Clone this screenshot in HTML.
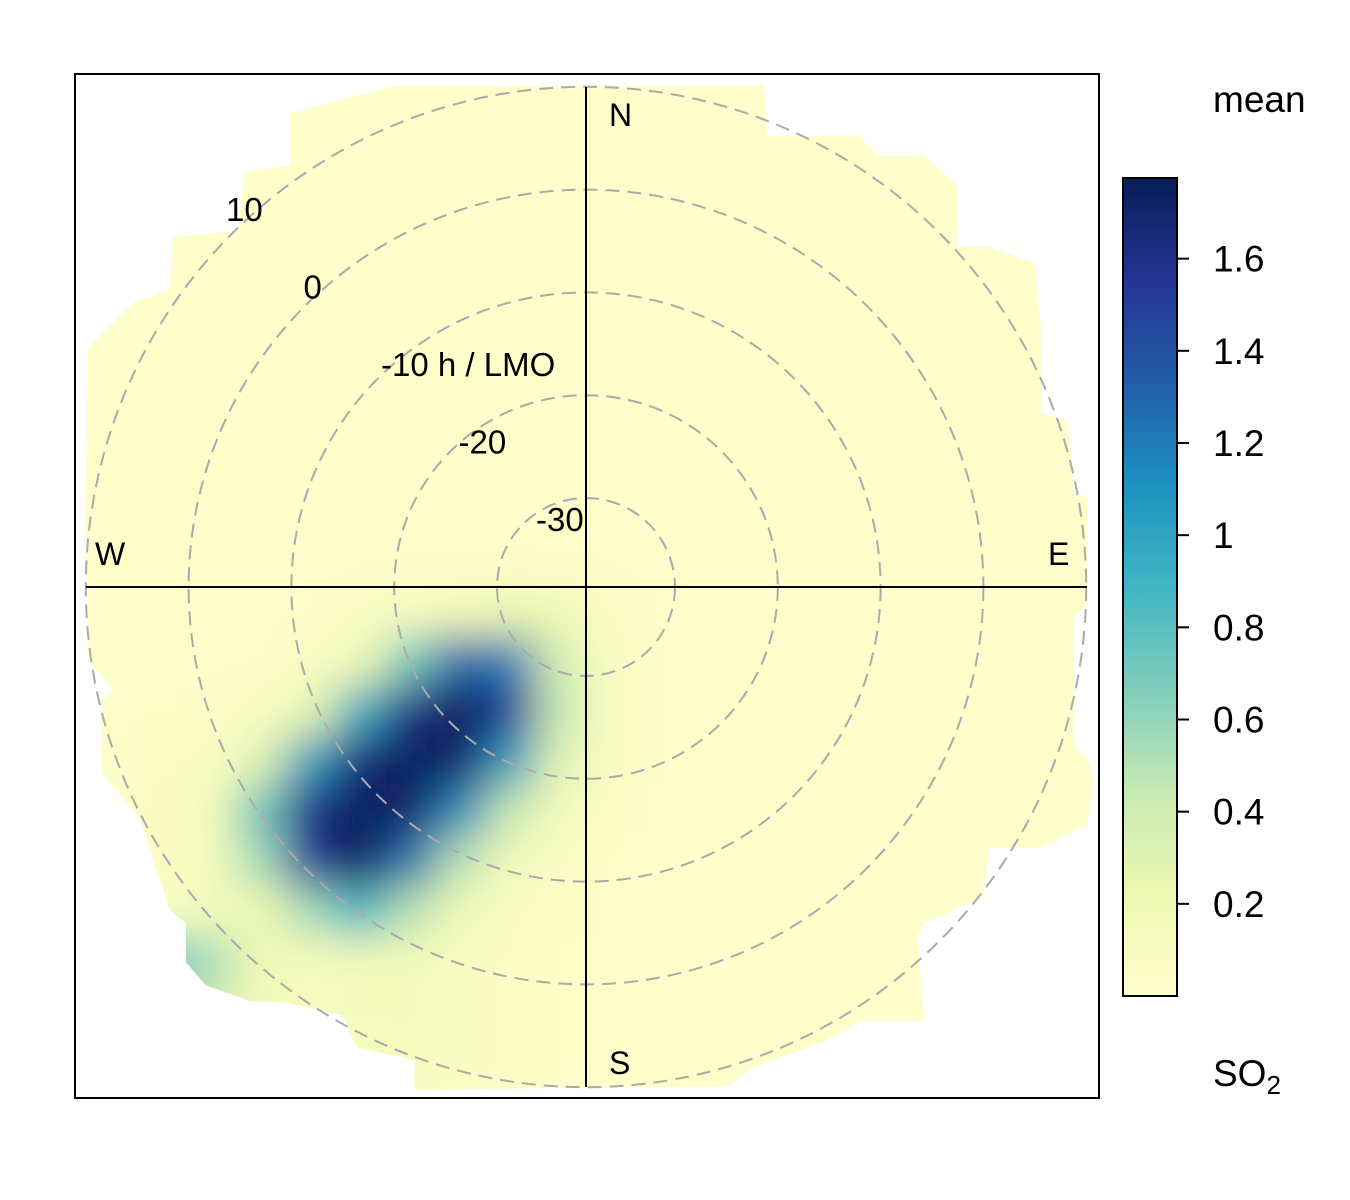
<!DOCTYPE html>
<html>
<head>
<meta charset="utf-8">
<style>
html,body{margin:0;padding:0;background:#fff;}
svg{display:block;font-family:"Liberation Sans",Arial,sans-serif;}
</style>
</head>
<body>
<svg id="chart" width="1350" height="1200" viewBox="0 0 1350 1200">
  <defs>
    <filter id="blur" x="-10%" y="-10%" width="120%" height="120%"><feGaussianBlur stdDeviation="21"/></filter>
    <clipPath id="dataClip"><polygon id="clipPoly" points=""/></clipPath>
    <clipPath id="boxClip"><rect x="76" y="75" width="1022" height="1022"/></clipPath>
    <linearGradient id="cbGrad" x1="0" y1="1" x2="0" y2="0">
      <stop offset="0" stop-color="#FFFFCC"/>
      <stop offset="0.125" stop-color="#EDF8B1"/>
      <stop offset="0.25" stop-color="#C7E9B4"/>
      <stop offset="0.375" stop-color="#7FCDBB"/>
      <stop offset="0.5" stop-color="#41B6C4"/>
      <stop offset="0.625" stop-color="#1D91C0"/>
      <stop offset="0.75" stop-color="#225EA8"/>
      <stop offset="0.875" stop-color="#253494"/>
      <stop offset="1" stop-color="#081D58"/>
    </linearGradient>
  </defs>
  <g clip-path="url(#boxClip)">
    <g clip-path="url(#dataClip)">
      <g id="heat" filter="url(#blur)"></g>
    </g>
  </g>
  <g id="circles"></g>
  <line x1="586" y1="87" x2="586" y2="1087" stroke="#000" stroke-width="2"/>
  <line x1="86" y1="587" x2="1087" y2="587" stroke="#000" stroke-width="2"/>
  <rect x="75" y="74" width="1024" height="1024" fill="none" stroke="#000" stroke-width="2"/>
  <g font-size="32" fill="#000">
    <text x="609" y="126">N</text>
    <text x="609" y="1074">S</text>
    <text x="95" y="565">W</text>
    <text x="1048" y="565">E</text>
  </g>
  <g id="rlabels" font-size="33" fill="#000"></g>
  <rect x="1123" y="178" width="54" height="818" fill="url(#cbGrad)" stroke="#000" stroke-width="2"/>
  <g id="cbticks" font-size="37" fill="#000"></g>
  <text x="1213" y="112" font-size="37">mean</text>
  <text x="1213" y="1086" font-size="37">SO<tspan font-size="26" dy="8">2</tspan></text>
</svg>
<script>
// colour scale
const cbMin = 0, cbMax = 1.775;
const cbTickValues = [0.2, 0.4, 0.6, 0.8, 1, 1.2, 1.4, 1.6];
const cbTickLabels = ["0.2", "0.4", "0.6", "0.8", "1", "1.2", "1.4", "1.6"];
// radial axis (h / LMO)
const radialTicks = [-30, -20, -10, 0, 10];
const radialTickLabels = ["-30", "-20", "-10 h / LMO", "0", "10"];
// gridded mean SO2 (50px cells, rows top->bottom, cols left->right)
const bg = 0.02;
const heatRows = [
  [],[],[],[],[],[],[],[],[],[],
  [0.02,0.02,0.02,0.02,0.02,0.05,0.1,0.15,0.22,0.2,0.05],
  [0.02,0.02,0.02,0.02,0.06,0.2,0.7,1.3,1.2,0.35,0.08],
  [0.02,0.03,0.04,0.08,0.25,0.95,1.6,1.78,1.5,0.45,0.08],
  [0.02,0.06,0.08,0.3,1.05,1.65,1.78,1.7,1.05,0.3,0.08],
  [0.02,0.08,0.14,0.75,1.6,1.78,1.7,1.15,0.45,0.15,0.04],
  [0.02,0.07,0.12,0.55,1.5,1.75,1.25,0.5,0.15,0.06,0.03],
  [0.02,0.05,0.15,0.2,0.55,0.9,0.5,0.2,0.08,0.04],
  [0.02,0.8,0.55,0.2,0.12,0.15,0.15,0.1,0.06,0.03],
  [0.02,0.5,0.4,0.15,0.12,0.15,0.15,0.1,0.06,0.03],
  [0.02,0.02,0.02,0.05,0.08,0.1,0.12,0.1,0.06,0.03]
];
const gridN = 20;

const NS = "http://www.w3.org/2000/svg";
const cx = 586, cy = 587, x0 = 86, y0 = 87, cell = 50;
const cbTop = 178, cbBot = 996;
function rScale(v){ return 89 + (v + 30) * 10.28; }
function labelX(v){ return 536 - (v + 30) * 7.75; }
function labelY(v){ return 531 - (v + 30) * 7.75; }
function cbY(v){ return cbBot - (v - cbMin) / (cbMax - cbMin) * (cbBot - cbTop); }
const stops = ["#FFFFCC","#EDF8B1","#C7E9B4","#7FCDBB","#41B6C4","#1D91C0","#225EA8","#253494","#081D58"];
function hex(h){ return [parseInt(h.substr(1,2),16),parseInt(h.substr(3,2),16),parseInt(h.substr(5,2),16)]; }
function colorOf(v){
  let t = Math.max(0, Math.min(1, (v - cbMin) / (cbMax - cbMin))) * (stops.length - 1);
  let i = Math.min(stops.length - 2, Math.floor(t)), f = t - i;
  let a = hex(stops[i]), b = hex(stops[i+1]);
  return "rgb(" + a.map((c,k)=>Math.round(c + (b[k]-c)*f)).join(",") + ")";
}

// irregular data-coverage outline (traced, in 1.531x zoom coords)
const outline = [[490,18],[1055,18],[1060,95],[1200,95],[1230,125],[1300,125],[1350,170],[1350,265],[1400,265],[1470,290],[1480,400],[1480,520],[1520,530],[1530,640],[1550,650],[1550,810],[1530,830],[1530,1030],[1550,1050],[1560,1080],[1550,1150],[1480,1185],[1400,1185],[1390,1260],[1300,1300],[1290,1320],[1300,1450],[1200,1450],[1150,1480],[1040,1520],[1000,1550],[520,1555],[520,1510],[430,1490],[410,1440],[310,1420],[270,1420],[200,1395],[170,1360],[170,1300],[145,1280],[100,1140],[40,1070],[40,960],[60,945],[40,920],[20,900],[20,800],[15,700],[20,420],[90,350],[145,330],[150,250],[250,240],[260,150],[330,140],[330,60],[350,55]];
document.getElementById("clipPoly").setAttribute("points",
  outline.map(p => (75 + p[0]/1.531).toFixed(1) + "," + (74 + p[1]/1.531).toFixed(1)).join(" "));

const heat = document.getElementById("heat");
const bgRect = document.createElementNS(NS, "rect");
bgRect.setAttribute("x", x0 - 60); bgRect.setAttribute("y", y0 - 60);
bgRect.setAttribute("width", gridN * cell + 120); bgRect.setAttribute("height", gridN * cell + 120);
bgRect.setAttribute("fill", colorOf(bg));


heat.appendChild(bgRect);
heatRows.forEach((row, j) => {
  row.forEach((v, i) => {
    if (v <= bg) return;
    const r = document.createElementNS(NS, "rect");
    r.setAttribute("x", x0 + i * cell - 1);
    r.setAttribute("y", y0 + j * cell - 1);
    r.setAttribute("width", cell + 2);
    r.setAttribute("height", cell + 2);
    r.setAttribute("fill", colorOf(v));
    
    
    heat.appendChild(r);
  });
});

const circles = document.getElementById("circles");
const rl = document.getElementById("rlabels");
radialTicks.forEach((v, k) => {
  const c = document.createElementNS(NS, "circle");
  c.setAttribute("cx", cx); c.setAttribute("cy", cy); c.setAttribute("r", rScale(v));
  c.setAttribute("fill", "none"); c.setAttribute("stroke", "#aaaaaa");
  c.setAttribute("stroke-width", "2"); c.setAttribute("stroke-dasharray", "14 8");
  
  
  circles.appendChild(c);
  const t = document.createElementNS(NS, "text");
  t.setAttribute("x", labelX(v));
  t.setAttribute("y", labelY(v));
  t.textContent = radialTickLabels[k];
  
  
  rl.appendChild(t);
});

const cbt = document.getElementById("cbticks");
cbTickValues.forEach((v, k) => {
  const y = cbY(v);
  const l = document.createElementNS(NS, "line");
  l.setAttribute("x1", 1177); l.setAttribute("x2", 1189);
  l.setAttribute("y1", y); l.setAttribute("y2", y);
  l.setAttribute("stroke", "#000"); l.setAttribute("stroke-width", "2");
  
  
  cbt.appendChild(l);
  const t = document.createElementNS(NS, "text");
  t.setAttribute("x", 1213); t.setAttribute("y", y + 13);
  t.textContent = cbTickLabels[k];
  
  
  cbt.appendChild(t);
});
</script>
</body>
</html>
